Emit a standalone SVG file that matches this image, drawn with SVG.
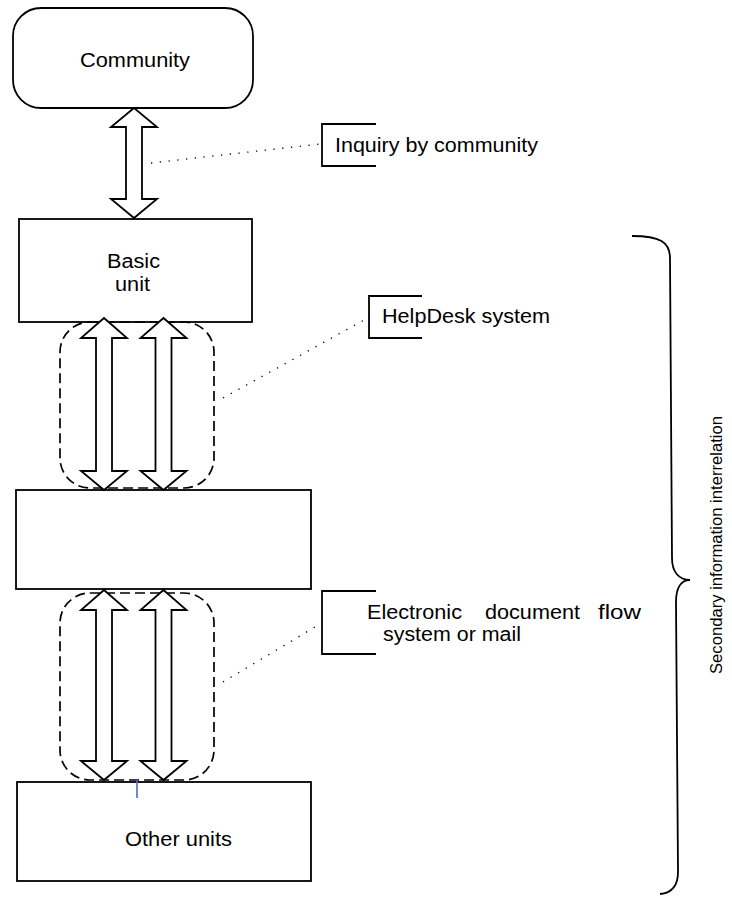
<svg xmlns="http://www.w3.org/2000/svg" width="732" height="899" viewBox="0 0 732 899">
<style>
.box{fill:#fff;stroke:#000;stroke-width:1.8}
.arr{fill:#fff;stroke:#000;stroke-width:1.8;stroke-linejoin:miter}
.grp{fill:none;stroke:#000;stroke-width:1.7;stroke-dasharray:10 5}
.dot{fill:none;stroke:#000;stroke-width:1.3;stroke-dasharray:1.3 7.5}
.brk{fill:none;stroke:#000;stroke-width:1.8}
.t{font-family:"Liberation Sans",Arial,sans-serif;font-size:20px;fill:#000}
.tv{font-family:"Liberation Sans",Arial,sans-serif;font-size:17px;fill:#000}
</style>
<rect width="732" height="899" fill="#fff"/>
<g id="community"><rect class="box" x="13" y="8" width="240" height="100" rx="28"/><text class="t" x="80" y="67" textLength="110" lengthAdjust="spacingAndGlyphs">Community</text></g>
<g id="basic-unit"><rect class="box" x="19" y="219" width="233" height="103"/><text class="t" x="107" y="268" textLength="53" lengthAdjust="spacingAndGlyphs">Basic</text><text class="t" x="115" y="291" textLength="35" lengthAdjust="spacingAndGlyphs">unit</text></g>
<g id="middle-unit"><rect class="box" x="16" y="490" width="295" height="99"/></g>
<g id="other-units"><rect class="box" x="17" y="782" width="294" height="99"/><text class="t" x="125" y="846" textLength="107" lengthAdjust="spacingAndGlyphs">Other units</text></g>
<g id="connectors">
<polygon class="arr" points="134,108 157,127 142,127 142,199 157,199 134,218 111,199 126,199 126,127 111,127"/>
<rect class="grp" x="60" y="322" width="154" height="166" rx="30"/>
<polygon class="arr" points="104,318 127,338 112,338 112,471 127,471 104,490 81,471 96,471 96,338 81,338"/>
<polygon class="arr" points="163.5,318 186.5,338 171.5,338 171.5,471 186.5,471 163.5,490 140.5,471 155.5,471 155.5,338 140.5,338"/>
<rect class="grp" x="60" y="593" width="154" height="187" rx="30"/>
<polygon class="arr" points="104,590 127,610 112,610 112,761 127,761 104,780 81,761 96,761 96,610 81,610"/>
<polygon class="arr" points="163.5,590 186.5,610 171.5,610 171.5,761 186.5,761 163.5,780 140.5,761 155.5,761 155.5,610 140.5,610"/>
<line x1="137" y1="780" x2="137" y2="798" stroke="#4472C4" stroke-width="1.6"/>
<line class="dot" x1="151" y1="163" x2="320" y2="144"/>
<line class="dot" x1="223" y1="398" x2="366" y2="319"/>
<line class="dot" x1="223" y1="682" x2="320" y2="624"/>
</g>
<g id="label-inquiry"><path class="brk" d="M376,124 H322 V166 H376"/><text class="t" x="335" y="152" textLength="203" lengthAdjust="spacingAndGlyphs">Inquiry by community</text></g>
<g id="label-helpdesk"><path class="brk" d="M422,296 H369 V338 H422"/><text class="t" x="382" y="323" textLength="168" lengthAdjust="spacingAndGlyphs">HelpDesk system</text></g>
<g id="label-edf"><path class="brk" d="M376,591 H322 V654 H376"/><text class="t" x="367" y="619" textLength="95" lengthAdjust="spacingAndGlyphs">Electronic</text><text class="t" x="485" y="619" textLength="95" lengthAdjust="spacingAndGlyphs">document</text><text class="t" x="598" y="619" textLength="43" lengthAdjust="spacingAndGlyphs">flow</text><text class="t" x="383" y="641" textLength="138" lengthAdjust="spacingAndGlyphs">system or mail</text></g>
<g id="brace"><path class="brk" d="M632,236 C660,236 670,242 670,258 L672,558 C672,572 679,580 690,580 C681,580 676,588 676,602 L678,872 C678,886 672,893 660,894"/><text class="tv" transform="translate(722,545) rotate(-90)" text-anchor="middle" textLength="258" lengthAdjust="spacingAndGlyphs">Secondary information interrelation</text></g>
</svg>
